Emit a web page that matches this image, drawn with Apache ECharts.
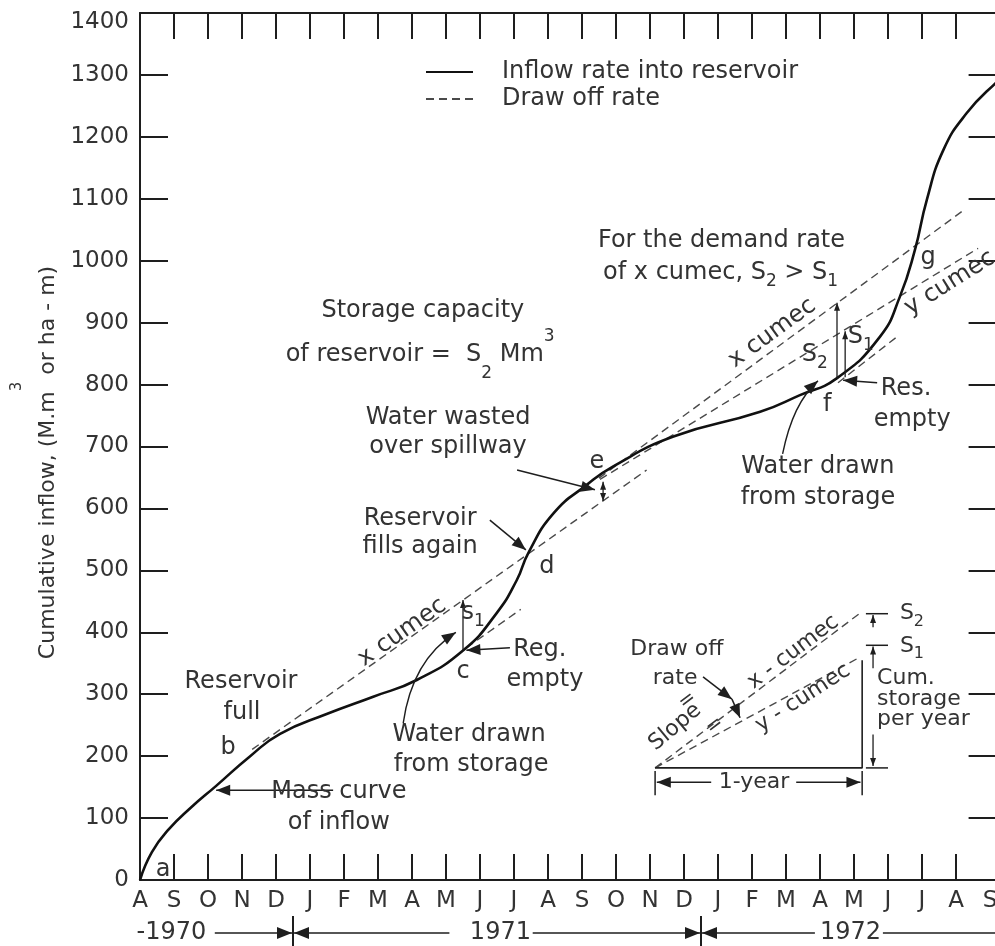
<!DOCTYPE html>
<html><head><meta charset="utf-8">
<script src="https://cdn.jsdelivr.net/npm/echarts@6/dist/echarts.min.js"></script>
<style>html,body{margin:0;padding:0;background:#fff}#c{width:995px;height:946px}</style>
</head><body><div id="c"></div>
<script>
// ---------- DATA ----------
const monthLabels = ['A','S','O','N','D','J','F','M','A','M','J','J','A','S','O','N','D','J','F','M','A','M','J','J','A','S'];
const yTickValues = [0,100,200,300,400,500,600,700,800,900,1000,1100,1200,1300,1400];
// mass curve of inflow: [month index from Aug 1970, cumulative inflow]
const massCurve = [[0,0],[0.35,45],[0.85,82],[1.5,117],[2.24,152],[3.24,200],[4.12,236],[5.49,268],[6.86,296],[8.14,323],[9.51,371],[10.49,431],[11.08,484],[11.42,528],[12.16,592],[13.14,638],[13.92,668],[15.69,716],[18.24,756],[19.41,783],[20.49,810],[21.76,877],[22.35,942],[22.79,1017],[23.14,1098],[23.63,1179],[24.31,1238],[25.15,1286],[25.6,1305]];
// draw-off (demand) lines
const drawXfromB = [[3.3,211],[14.9,662]];
const drawXatC   = [[9.6,375],[11.2,437]];
const drawXfromE = [[13.5,649],[24.26,1083]];
const drawYfromE = [[13.53,647],[24.65,1020]];
const drawAtF    = [[20.53,803],[22.26,877]];
// inset: draw off rate triangle
const insetX = [[15.15,181],[21.18,431]];
const insetY = [[15.15,181],[21.18,360]];
const insetFrame = [[15.15,181],[21.24,181],[21.24,355]];

// ---------- ANNOTATIONS (in data units) ----------
const noteTexts = [
 [8.32,919,'Storage capacity'],
 [8.24,848,'{t|of reservoir =  S}{sub|2}{t| Mm}{sup|3}','center',0,24,54],
 [9.06,746,'Water wasted'],
 [9.06,699,'over spillway'],
 [8.24,583,'Reservoir'],
 [8.24,538,'fills again'],
 [11.97,505,'d'],
 [13.44,675,'e'],
 [7.71,400,'x cumec','center',35],
 [9.8,431,'{t|s}{sub|1}'],
 [9.5,336,'c'],
 [11.76,371,'Reg.'],
 [11.91,323,'empty'],
 [2.97,320,'Reservoir'],
 [3.0,270,'full'],
 [2.59,213,'b'],
 [5.85,142,'Mass curve'],
 [5.85,92,'of inflow'],
 [0.68,16,'a'],
 [9.68,234,'Water drawn'],
 [9.74,186,'from storage'],
 [15.79,373,'Draw off','center',0,22],
 [15.74,326,'rate','center',0,22],
 [22.35,430,'{t|S}{sub|2}','left',0,22],
 [22.35,378,'{t|S}{sub|1}','left',0,22],
 [21.68,326,'Cum.','left',0,22],
 [21.68,292,'storage','left',0,22],
 [21.68,259,'per year','left',0,22],
 [18.06,158,'1-year','center',0,22],
 [19.94,667,'Water drawn'],
 [19.94,618,'from storage'],
 [22.53,794,'Res.'],
 [22.71,743,'empty'],
 [20.21,767,'f'],
 [23.18,1004,'g'],
 [13.47,1033,'For the demand rate','left'],
 [13.62,980,'{t|of x cumec, S}{sub|2}{t| > S}{sub|1}','left'],
 [18.59,883,'x cumec','center',36],
 [23.82,964,'y cumec','center',32],
 [19.85,848,'{t|S}{sub|2}'],
 [21.2,877,'{t|S}{sub|1}'],
 [19.21,368,'x - cumec','center',37,22],
 [19.5,294,'y - cumec','center',33,22],
 [15.74,247,'Slope','center',40,22],
 [16.1,290,'=','center',37,20],
 [16.9,250,'=','center',37,20]
];
// arrows: from, to, optional ctrl, head size
const noteArrows = [
 {from:[5.68,145],to:[2.24,145]},
 {from:[11.09,662],to:[13.38,630]},
 {from:[10.29,581],to:[11.35,533]},
 {from:[10.88,375],to:[9.6,371]},
 {from:[7.74,253],ctrl:[8.0,355],to:[9.29,400]},
 {from:[9.5,371],to:[9.5,452],small:true},
 {from:[13.62,628],to:[13.62,643],small:true},
 {from:[13.62,628],to:[13.62,612],small:true},
 {from:[18.9,688],ctrl:[19.2,770],to:[19.94,806]},
 {from:[21.68,803],to:[20.68,807]},
 {from:[20.5,810],to:[20.5,932],small:true},
 {from:[20.74,812],to:[20.74,886],small:true},
 {from:[16.56,328],to:[17.41,292]},
 {from:[17.41,292],to:[17.65,262]},
 {from:[21.56,408],to:[21.56,428],small:true},
 {from:[21.56,342],to:[21.56,377],small:true},
 {from:[21.56,235],to:[21.56,184],small:true},
 {from:[16.8,158],to:[15.2,158]},
 {from:[19.3,158],to:[21.19,158]}
];
const noteLines = [
 [[21.35,430],[22.0,430]],
 [[21.35,379],[22.0,379]],
 [[21.35,181],[22.0,181]],
 [[15.15,176],[15.15,137]],
 [[21.24,176],[21.24,137]]
];
const yearY = -85.6;
const yearTexts = [[-0.1,'-1970','left'],[10.6,'1971','center'],[20.9,'1972','center']];
const yearArrows = [[2.2,4.47],[9.1,4.53],[11.55,16.47],[19.85,16.53]];
const yearBars = [4.5,16.5];
const yearTail = [21.85,25.6];

// ---------- CHART ----------
const FONT = 'DejaVu Sans';
const TXT = '#333';
const INK = '#1e1e1e';
const chart = echarts.init(document.getElementById('c'));
const dashStyle = {color:'#4a4a4a', width:1.4, type:[8,5]};
function dashSeries(data){
  return {name:'Draw off rate', type:'line', data, symbol:'none', lineStyle:dashStyle, itemStyle:{color:'#4a4a4a'}, silent:true, z:3};
}
const tickInner = [1,2,3,4,5,6,7,8,9,10,11,12,13,14,15,16,17,18,19,20,21,22,23,24];
const labelVals = monthLabels.map((_, i) => i);
const yInner = yTickValues.slice(1, -1);
const yTop = yTickValues[yTickValues.length - 1];

chart.setOption({
  animation:false,
  backgroundColor:'#fff',
  grid:{left:140, top:13, width:863.6, height:867, containLabel:false, outerBoundsMode:'none'},
  legend:{
    data:['Inflow rate into reservoir','Draw off rate'],
    orient:'vertical', left:420, top:55, itemWidth:47, itemHeight:12, itemGap:3,
    itemStyle:{opacity:0},
    textStyle:{fontSize:24, fontFamily:FONT, color:TXT, padding:[0,0,0,24]},
    selectedMode:false
  },
  xAxis:[
    {type:'value', position:'bottom', min:0, max:25.4, interval:1,
     axisLine:{onZero:false, lineStyle:{color:INK, width:2}},
     axisTick:{inside:true, length:26, lineStyle:{color:INK, width:2}, customValues:tickInner},
     axisLabel:{fontSize:23, fontFamily:FONT, color:TXT, margin:10, customValues:labelVals,
       formatter:(v)=> Number.isInteger(v) && monthLabels[v] ? monthLabels[v] : ''},
     splitLine:{show:false}},
    {type:'value', position:'top', min:0, max:25.4, interval:1,
     axisLine:{onZero:false, lineStyle:{color:INK, width:2}},
     axisTick:{inside:true, length:26, lineStyle:{color:INK, width:2}, customValues:tickInner},
     axisLabel:{show:false}, splitLine:{show:false}}
  ],
  yAxis:[
    {type:'value', position:'left', min:0, max:1400, interval:100,
     axisLine:{show:true, onZero:false, lineStyle:{color:INK, width:2}},
     axisTick:{inside:true, length:28, lineStyle:{color:INK, width:2}, customValues:yInner},
     axisLabel:{fontSize:23, fontFamily:FONT, color:TXT, margin:11,
       formatter:(v)=> v === yTop ? '{p|' + v + '}' : String(v),
       rich:{p:{fontSize:23, fontFamily:FONT, color:TXT, padding:[18,0,0,0]}}},
     splitLine:{show:false},
     name:'{a|Cumulative inflow, (M.m}{s|3}{a| or ha - m)}',
     nameLocation:'middle', nameGap:54, nameRotate:90,
     nameTextStyle:{padding:[0,32,0,0], rich:{
       a:{fontSize:22, fontFamily:FONT, color:TXT, lineHeight:76},
       s:{fontSize:15, fontFamily:FONT, color:TXT, verticalAlign:'top'}
     }}},
    {type:'value', position:'right', min:0, max:1400, interval:100,
     axisLine:{show:false, onZero:false},
     axisTick:{show:true, inside:true, length:35, lineStyle:{color:INK, width:2}, customValues:yInner},
     axisLabel:{show:false}, splitLine:{show:false}}
  ],
  series:[
    {name:'Inflow rate into reservoir', type:'line', data:massCurve, symbol:'none', smooth:0.5,
     lineStyle:{color:'#111', width:2.6}, itemStyle:{color:'#111'}, silent:true, z:4},
    dashSeries(drawXfromB),
    dashSeries(drawXatC),
    dashSeries(drawXfromE),
    dashSeries(drawYfromE),
    dashSeries(drawAtF),
    dashSeries(insetX),
    dashSeries(insetY),
    {name:'frame', type:'line', data:insetFrame, symbol:'none', lineStyle:{color:INK, width:1.6}, silent:true}
  ]
});

// ---------- GRAPHIC ANNOTATIONS ----------
function richStyles(fs, lh){
  const s = Math.round(fs*0.72);
  return {
    t:{fontSize:fs, fontFamily:FONT, fill:TXT, lineHeight:lh},
    sub:{fontSize:s, fontFamily:FONT, fill:TXT, verticalAlign:'bottom'},
    sup:{fontSize:s, fontFamily:FONT, fill:TXT, verticalAlign:'top'}
  };
}
function buildGraphics(){
  const P = (d) => chart.convertToPixel({xAxisIndex:0, yAxisIndex:0}, d);
  const els = [];
  const head = (tip, from, len, w) => {
    const dx = tip[0]-from[0], dy = tip[1]-from[1];
    const L = Math.hypot(dx, dy) || 1;
    const ux = dx/L, uy = dy/L;
    const bx = tip[0]-ux*len, by = tip[1]-uy*len;
    els.push({type:'polygon', silent:true, z:60,
      shape:{points:[[tip[0],tip[1]],[bx-uy*w, by+ux*w],[bx+uy*w, by-ux*w]]},
      style:{fill:INK}});
  };
  const line = (a, b, lw) => els.push({type:'line', silent:true, z:60,
      shape:{x1:a[0],y1:a[1],x2:b[0],y2:b[1]}, style:{stroke:INK, lineWidth:lw||1.5}});

  noteTexts.forEach(n => {
    const m = n[0], v = n[1], str = n[2];
    const align = n[3] || 'center', rot = n[4] || 0, fs = n[5] || 24, lh = n[6] || (fs+10);
    const p = P([m, v]);
    els.push({type:'text', x:p[0], y:p[1], rotation:rot*Math.PI/180, silent:true, z:70,
      style:{text:str, fontSize:fs, fontFamily:FONT, fill:TXT, align:align, verticalAlign:'middle', rich:richStyles(fs, lh)}});
  });
  noteArrows.forEach(a => {
    const f = P(a.from), t = P(a.to);
    const len = a.small ? 8 : 14, w = a.small ? 3 : 5.5;
    if (a.ctrl){
      const c = P(a.ctrl);
      els.push({type:'bezierCurve', silent:true, z:60,
        shape:{x1:f[0],y1:f[1],x2:t[0],y2:t[1],cpx1:c[0],cpy1:c[1]},
        style:{stroke:INK, lineWidth:1.4, fill:null}});
      head(t, c, len, w);
    } else {
      line(f, t, a.small ? 1.3 : 1.5);
      head(t, f, len, w);
    }
  });
  noteLines.forEach(l => line(P(l[0]), P(l[1]), 1.5));

  yearTexts.forEach(y => {
    const p = P([y[0], yearY]);
    els.push({type:'text', x:p[0], y:p[1], silent:true, z:70,
      style:{text:y[1], fontSize:24, fontFamily:FONT, fill:TXT, align:y[2], verticalAlign:'middle'}});
  });
  yearArrows.forEach(a => {
    const f = P([a[0], yearY]), t = P([a[1], yearY]);
    line(f, t, 1.5); head(t, f, 15, 6);
  });
  yearBars.forEach(b => line(P([b, -58]), P([b, -115]), 2));
  line(P([yearTail[0], yearY]), P([yearTail[1], yearY]), 1.5);

  chart.setOption({graphic:{elements:els}});
}
buildGraphics();
</script>
</body></html>
